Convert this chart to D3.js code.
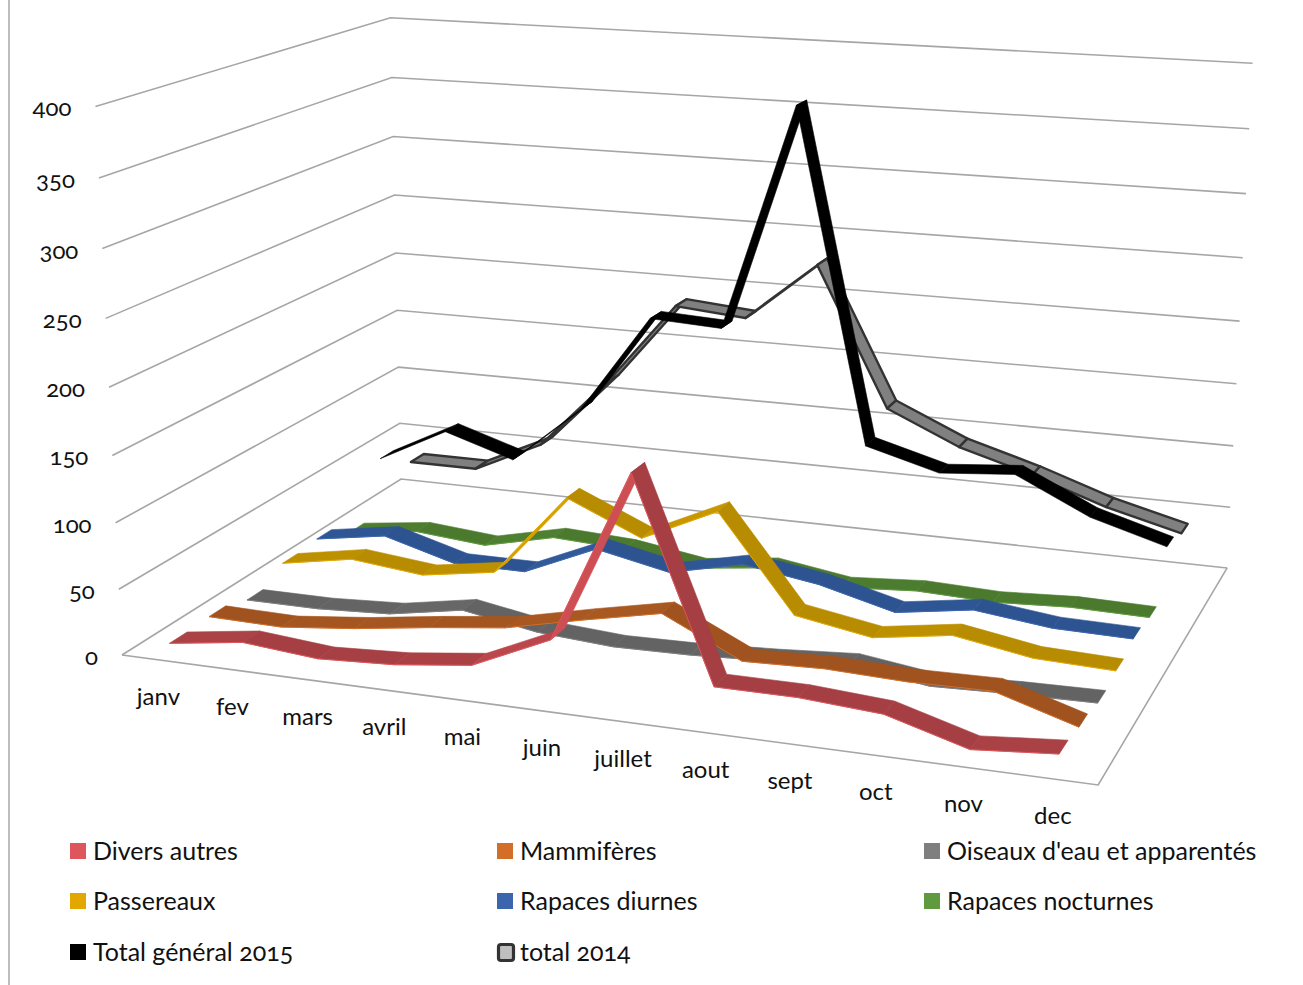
<!DOCTYPE html>
<html><head><meta charset="utf-8">
<script src="https://cdn.jsdelivr.net/npm/d3@7"></script>
<style>
html,body{margin:0;padding:0;background:#fff}
svg{display:block}
text{font-family:Lato,"Open Sans",sans-serif;fill:#111;font-feature-settings:"onum" 1}
</style></head><body><div id="c"></div>
<script>
const months=["janv","fev","mars","avril","mai","juin","juillet","aout","sept","oct","nov","dec"];
const valueTicks=[0,50,100,150,200,250,300,350,400];
const seriesNames=["Divers autres","Mammifères","Oiseaux d'eau et apparentés","Passereaux","Rapaces diurnes","Rapaces nocturnes","Total général 2015","total 2014"];
const diversAutres=[7,15,10,13,20,46,172,27,27,23,6,11];
const mammiferes=[8,7,13,21,28,41,53,25,27,25,26,8];
const oiseauxEau=[2,2,5,15,5,1,2,5,9,1,3,4];
const passereaux=[13,23,17,26,91,66,93,20,10,19,9,7];
const rapacesDiurnes=[15,24,8,8,33,21,34,25,10,19,12,11];
const rapacesNocturnes=[3,10,5,18,15,6,13,4,8,6,9,8];
const totalGeneral2015=[49,78,60,108,188,185,365,101,85,90,62,45];
const total2014=[30,30,57,116,185,180,228,116,90,73,53,38];
const seriesValues=[diversAutres,mammiferes,oiseauxEau,passereaux,rapacesDiurnes,rapacesNocturnes,totalGeneral2015,total2014];
const legendColors=["#de565b","#d26e28","#7f7f7f","#e3a800","#3b65ad","#5f9a3e","#000000","#bfbfbf"];
const faceColors=["#a53f43","#a0531f","#636363","#b78c00","#2d5490","#4b7a2e","#000000","#808080"];

const W=1303,H=985;
const svg=d3.select("#c").append("svg").attr("width",W).attr("height",H);
// camera of the 3D box: u along months, v in depth, h height
function project(u,v,h){
  const w=1-0.1076*u+0.1984*v-0.0468*h;
  return [(858*u+358.6*v+122-31*h)/w,(45.5*u-81*v+655-553.5*h)/w];
}
const uScale=d3.scalePoint().domain(months).range([0,1]).padding(0.5);
const vScale=d3.scalePoint().domain(seriesNames).range([0,1]).padding(0.5);
const hScale=d3.scaleLinear().domain([0,400]).range([0,1]);
const halfDepth=0.0275;

// left border
svg.append("rect").attr("x",8).attr("y",0).attr("width",2).attr("height",H).attr("fill","#bdbdbd");

// walls
const grid=svg.append("g").attr("fill","none").attr("stroke","#a6a6a6").attr("stroke-width",1.6);
const line=d3.line();
valueTicks.forEach(t=>{
  const h=hScale(t);
  grid.append("path").attr("d",line([project(0,0,h),project(0,1,h),project(1,1,h)]));
});
grid.append("path").attr("d",line([project(0,0,0),project(1,0,0),project(1,1,0)]));

// value labels
svg.append("g").selectAll("text").data(valueTicks).join("text")
  .attr("x",t=>project(0,0,hScale(t))[0]-24)
  .attr("y",t=>project(0,0,hScale(t))[1]+10)
  .attr("text-anchor","end").attr("font-size",24).text(t=>t);
// month labels
svg.append("g").selectAll("text").data(months).join("text")
  .attr("x",m=>project(uScale(m),0,0)[0])
  .attr("y",m=>project(uScale(m),0,0)[1]+45)
  .attr("text-anchor","middle").attr("font-size",24).text(m=>m);

// ribbons, back to front
const marks=svg.append("g");
for(let s=seriesNames.length-1;s>=0;s--){
  const name=seriesNames[s],vals=seriesValues[s],v=vScale(name);
  const g=marks.append("g");
  const isOutlined=s===7;
  for(let i=0;i<months.length-1;i++){
    const u0=uScale(months[i]),u1=uScale(months[i+1]);
    const h0=hScale(vals[i]),h1=hScale(vals[i+1]);
    const quad=[project(u0,v-halfDepth,h0),project(u1,v-halfDepth,h1),project(u1,v+halfDepth,h1),project(u0,v+halfDepth,h0)];
    const rise=vals[i+1]-vals[i];
    const fill=isOutlined?faceColors[s]:d3.interpolateRgb(faceColors[s],legendColors[s])(Math.max(0,Math.min(1,rise/50))*0.7);
    g.append("path").attr("d",line(quad)+"Z").attr("fill",fill)
      .attr("stroke",isOutlined?"#333":fill)
      .attr("stroke-width",isOutlined?2.4:0.6)
      .attr("stroke-linejoin","round");
    if(!isOutlined&&s!==6){
      g.append("path").attr("d",line([quad[0],quad[1]])).attr("stroke",legendColors[s]).attr("stroke-width",1).attr("fill","none");
    }
  }
}

// legend
const legendX=[70,497,924],legendY=[851,901,952];
const legend=svg.append("g");
seriesNames.forEach((n,i)=>{
  const x=legendX[i%3],y=legendY[Math.floor(i/3)];
  if(i===7){
    legend.append("rect").attr("x",x+1.5).attr("y",y-7.5).attr("width",15).attr("height",16).attr("rx",2.5)
      .attr("fill",legendColors[i]).attr("stroke","#333").attr("stroke-width",3.2);
  } else {
    legend.append("rect").attr("x",x).attr("y",y-8).attr("width",16).attr("height",16).attr("fill",legendColors[i]);
  }
  legend.append("text").attr("x",x+23).attr("y",y+9).attr("font-size",25).text(n);
});
</script></body></html>
